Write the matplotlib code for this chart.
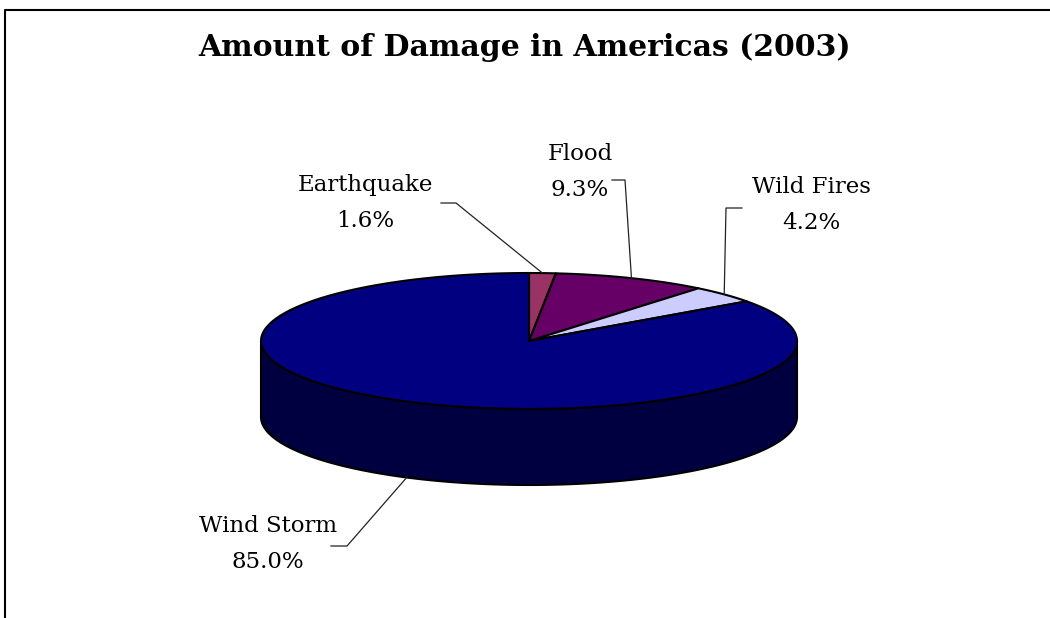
import numpy as np
import matplotlib
matplotlib.use("Agg")
import matplotlib.pyplot as plt
from matplotlib.patches import Polygon

# -------------------------------------------------------------------------
# Data
# -------------------------------------------------------------------------
title = "Amount of Damage in Americas (2003)"
categories = ["Earthquake", "Flood", "Wild Fires", "Wind Storm"]
values = [1.6, 9.3, 4.2, 85.0]
top_colors = ["#993366", "#660066", "#CCCCFF", "#000080"]
side_colors = ["#4C1933", "#330033", "#66667F", "#000040"]

# -------------------------------------------------------------------------
# Layout (pixel space, y down)
# -------------------------------------------------------------------------
W, H = 1050, 618
CX, CY = 529, 341      # centre of top face
RX, RY = 268, 68       # ellipse radii
DEPTH = 76             # thickness of the pie

label_xy = [(365, 203), (580, 172), (811, 205), (268, 544)]
elbow = [((441, 203), (456, 203)),
         ((612, 180), (625, 180)),
         ((742, 208), (726, 208)),
         ((331, 546), (347, 546))]


def arc(t1, t2, n=200, dy=0.0):
    t = np.radians(np.linspace(t1, t2, n))
    return np.column_stack([CX + RX * np.sin(t), CY - RY * np.cos(t) + dy])


fig = plt.figure(figsize=(W / 100, H / 100), dpi=100)
ax = fig.add_axes([0, 0, 1, 1])
ax.set_xlim(0, W)
ax.set_ylim(H, 0)
ax.axis("off")

# outer chart frame (runs off the right and bottom)
ax.plot([5, 5, W + 10], [H + 10, 10, 10], color="black", lw=1.5)

# angles, clockwise from 12 o'clock
fracs = np.array(values) / sum(values)
ends = np.cumsum(fracs) * 360
starts = ends - fracs * 360

# side walls (front half only: 90..270 deg)
for s, e, col in zip(starts, ends, side_colors):
    a, b = max(s, 90), min(e, 270)
    if a >= b:
        continue
    top = arc(a, b)
    bot = arc(b, a, dy=DEPTH)
    ax.add_patch(Polygon(np.vstack([top, bot]), closed=True, fc=col,
                         ec="black", lw=1.5, joinstyle="round"))

# top faces
for s, e, col in zip(starts, ends, top_colors):
    pts = np.vstack([[CX, CY], arc(s, e)])
    ax.add_patch(Polygon(pts, closed=True, fc=col, ec="black", lw=1.5,
                         joinstyle="round"))

# labels with leader lines
for i, (name, v) in enumerate(zip(categories, values)):
    mid = np.radians((starts[i] + ends[i]) / 2)
    ax_x = CX + RX * np.sin(mid)
    ax_y = CY - RY * np.cos(mid)
    if np.cos(mid) < 0:
        ax_y += DEPTH
    (x0, y0), (x1, y1) = elbow[i]
    ax.plot([x0, x1, ax_x], [y0, y1, ax_y], color="#222222", lw=0.9)
    lx, ly = label_xy[i]
    ax.text(lx, ly, f"{name}\n{v:.1f}%", ha="center", va="center",
            fontsize=16.5, family="DejaVu Serif", linespacing=1.78)

ax.text(525, 47, title, ha="center", va="center", fontsize=21.5,
        fontweight="bold", family="DejaVu Serif")

fig.savefig("out.png", dpi=100)
